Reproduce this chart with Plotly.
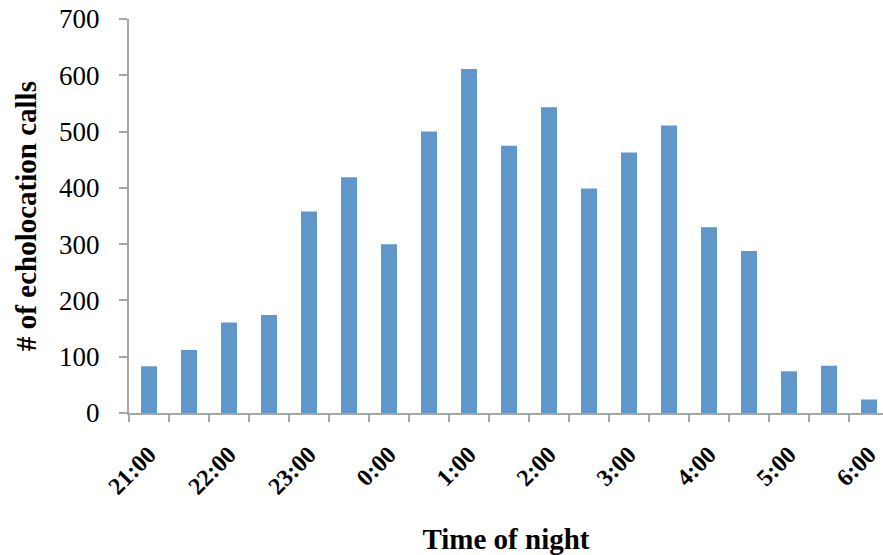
import plotly.graph_objects as go

categories = ["21:00", "21:30", "22:00", "22:30", "23:00", "23:30", "0:00", "0:30",
              "1:00", "1:30", "2:00", "2:30", "3:00", "3:30", "4:00", "4:30",
              "5:00", "5:30", "6:00"]
calls = [83, 112, 161, 174, 358, 419, 300, 500, 611, 475, 543, 399, 463, 511,
         330, 288, 74, 84, 24]
tick_labels = [c if c.endswith(":00") else "" for c in categories]

FONT = "Liberation Serif"
AXIS_GRAY = "#A6A6A6"

fig = go.Figure(go.Bar(x=categories, y=calls, marker_color="#6097CB",
                       marker_line_width=0))

fig.update_layout(
    width=883, height=555,
    margin=dict(l=129, r=0, t=19, b=142),
    paper_bgcolor="white", plot_bgcolor="white",
    bargap=0.6, showlegend=False,
    font=dict(family=FONT, color="black"),
)
fig.update_xaxes(
    type="category", range=[-0.5, 18.35],
    tickmode="array", tickvals=categories, ticktext=tick_labels,
    tickson="boundaries", ticks="outside", ticklen=7, tickwidth=2,
    tickcolor=AXIS_GRAY, tickangle=-45,
    tickfont=dict(family=FONT, size=24, color="black", weight="bold"),
    showline=True, linecolor=AXIS_GRAY, linewidth=2, showgrid=False,
    ticklabelstandoff=16,
    title=dict(text="<b>Time of night</b>", font=dict(family=FONT, size=29), standoff=32),
)
fig.update_yaxes(
    range=[0, 700], dtick=100, ticks="outside", ticklen=8, tickwidth=2,
    tickcolor=AXIS_GRAY, showline=True, linecolor=AXIS_GRAY, linewidth=2,
    showgrid=False, zeroline=False,
    tickfont=dict(family=FONT, size=27, color="black"),
    ticklabelstandoff=14,
    title=dict(text="<b># of echolocation calls</b>", font=dict(family=FONT, size=29), standoff=14),
)

fig.write_html("out.html")
